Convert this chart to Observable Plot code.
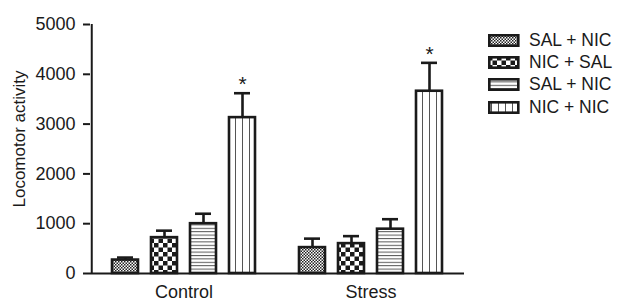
<!DOCTYPE html>
<html><head><meta charset="utf-8">
<script src="https://cdn.jsdelivr.net/npm/d3@7"></script>
<script src="https://cdn.jsdelivr.net/npm/@observablehq/plot@0.6"></script>
<style>
body{margin:0;background:#fff;}
#wrap{position:relative;width:619px;height:303px;font-family:"Liberation Sans",Arial,sans-serif;color:#1a1a1a;}
#legend{position:absolute;left:488px;top:29.7px;}
.row{display:flex;align-items:center;height:22.1px;font-size:17.5px;white-space:nowrap;}
.row svg{margin-right:9px;display:block;}
#ylab{position:absolute;left:19px;top:138.5px;font-size:17px;white-space:nowrap;transform:translate(-50%,-50%) rotate(-90deg);line-height:1;}
</style></head><body><div id="wrap"><div id="legend"></div><div id="ylab"></div></div>
<script>
const groups = ["Control", "Stress"];
const seriesKeys = ["s1", "s2", "s3", "s4"];
const seriesLabels = ["SAL + NIC", "NIC + SAL", "SAL + NIC", "NIC + NIC"];
const controlMeans = [270, 720, 1000, 3130];
const controlErr = [50, 140, 200, 490];
const stressMeans = [520, 600, 890, 3660];
const stressErr = [180, 150, 200, 570];
const controlSig = [false, false, false, true];
const stressSig = [false, false, false, true];
const yTicks = [0, 1000, 2000, 3000, 4000, 5000];
const yLabel = "Locomotor activity";

const means = [controlMeans, stressMeans];
const errs = [controlErr, stressErr];
const sigs = [controlSig, stressSig];
const rows = groups.flatMap((g, gi) => seriesKeys.map((k, si) => ({
  group: g, key: k, value: means[gi][si], err: errs[gi][si], sig: sigs[gi][si]
})));
const patternUrls = ["url(#pat1)", "url(#pat2)", "url(#pat3)", "url(#pat4)"];
const font = "'Liberation Sans', Arial, sans-serif";

const W = 619, ML = 89, MR = 155;
const padIn = 0.325, padOut = 0.506;
const step = ((W - ML - MR) / groups.length) / (seriesKeys.length - padIn + 2 * padOut);
const axisShift = -(padOut * step + (1 - padIn) * step / 2);

const chart = Plot.plot({
  width: W, height: 303,
  marginLeft: ML, marginRight: MR, marginTop: 24, marginBottom: 30,
  style: {fontFamily: font, fontSize: "18px", color: "#1a1a1a", background: "white", overflow: "visible"},
  fx: {domain: groups, padding: 0},
  x: {domain: seriesKeys, paddingInner: padIn, paddingOuter: padOut, axis: null},
  y: {domain: [0, 5000]},
  color: {domain: seriesKeys, range: patternUrls},
  marks: [
    Plot.axisY({ticks: yTicks, tickFormat: d3.format("d"), tickSize: 7, tickPadding: 8, label: null, strokeWidth: 2, fontSize: 18}),
    Plot.axisFx({anchor: "bottom", tickSize: 0, tickPadding: 12, label: null, fontSize: 18}),
    Plot.ruleX([{group: groups[0], key: seriesKeys[0]}], {fx: "group", x: "key", y1: 0, y2: 5000, dx: axisShift, strokeWidth: 2, stroke: "#1a1a1a"}),
    Plot.ruleY([0], {strokeWidth: 2, stroke: "#1a1a1a"}),
    Plot.ruleX(rows, {fx: "group", x: "key", y1: "value", y2: d => d.value + d.err, strokeWidth: 2.6, stroke: "#1a1a1a"}),
    Plot.tickY(rows, {fx: "group", x: "key", y: d => d.value + d.err, strokeWidth: 2.6, stroke: "#1a1a1a", insetLeft: 5, insetRight: 5}),
    Plot.barY(rows, {fx: "group", x: "key", y: "value", fill: "key", stroke: "#1a1a1a", strokeWidth: 2.6}),
    Plot.text(rows.filter(d => d.sig), {fx: "group", x: "key", y: d => d.value + d.err, text: () => "*", dy: -9, fontSize: 21, fill: "#1a1a1a"})
  ]
});

const defs = d3.select(chart).insert("defs", ":first-child");
function pat(id, w, h, build) {
  const p = defs.append("pattern").attr("id", id).attr("patternUnits", "userSpaceOnUse").attr("width", w).attr("height", h);
  p.append("rect").attr("width", w).attr("height", h).attr("fill", "white");
  build(p);
}
pat("pat1", 3, 3, p => {
  p.append("rect").attr("x", 0).attr("y", 0).attr("width", 1.5).attr("height", 1.5).attr("fill", "#222");
  p.append("rect").attr("x", 1.5).attr("y", 1.5).attr("width", 1.5).attr("height", 1.5).attr("fill", "#222");
});
pat("pat2", 9, 9, p => {
  p.append("rect").attr("x", 0).attr("y", 0).attr("width", 4.5).attr("height", 4.5).attr("fill", "#1a1a1a");
  p.append("rect").attr("x", 4.5).attr("y", 4.5).attr("width", 4.5).attr("height", 4.5).attr("fill", "#1a1a1a");
});
pat("pat3", 10, 3.4, p => {
  p.append("rect").attr("x", 0).attr("y", 0).attr("width", 10).attr("height", 1).attr("fill", "#555");
});
pat("pat4", 7, 10, p => {
  p.append("rect").attr("x", 3).attr("y", 0).attr("width", 1).attr("height", 10).attr("fill", "#555");
});

document.getElementById("wrap").prepend(chart);
document.getElementById("ylab").textContent = yLabel;

const legend = d3.select("#legend");
seriesLabels.forEach((lab, i) => {
  const row = legend.append("div").attr("class", "row");
  const s = row.append("svg").attr("width", 32).attr("height", 13);
  s.append("rect").attr("x", 1.3).attr("y", 1.3).attr("width", 29).attr("height", 10.4)
    .attr("fill", patternUrls[i]).attr("stroke", "#1a1a1a").attr("stroke-width", 2.6);
  row.append("span").text(lab);
});
</script></body></html>
